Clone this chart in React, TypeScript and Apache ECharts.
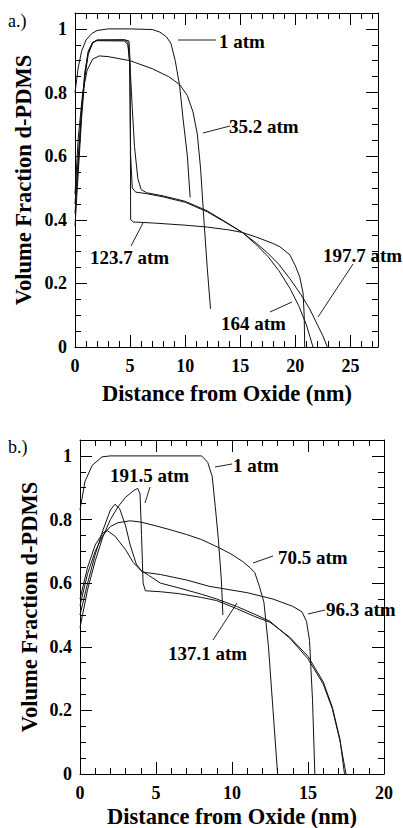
import React, { useEffect, useRef } from "react";
import * as echarts from "echarts";

const FONT = "'Liberation Serif', 'Times New Roman', serif";

// ---------- Panel a data (Distance nm, volume fraction) ----------
const aXTicks = [0, 5, 10, 15, 20, 25];
const a1atm = [[0, 0.8], [0.3, 0.88], [0.6, 0.93], [1, 0.965], [1.5, 0.985], [2, 0.995], [3, 1.0], [5, 1.0], [7, 0.998], [7.7, 0.99], [8.3, 0.975], [8.7, 0.955], [9.1, 0.9], [9.5, 0.82], [9.8, 0.72], [10.2, 0.6], [10.45, 0.47]];
const a35atm = [[0, 0.48], [0.3, 0.66], [0.7, 0.8], [1.1, 0.87], [1.6, 0.905], [2.2, 0.915], [3, 0.913], [5, 0.9], [7, 0.875], [8.5, 0.85], [9.5, 0.825], [10.2, 0.79], [10.7, 0.74], [11.1, 0.67], [11.4, 0.56], [11.7, 0.4], [12.0, 0.25], [12.3, 0.12]];
const a123atm = [[0, 0.38], [0.3, 0.55], [0.6, 0.72], [0.9, 0.85], [1.2, 0.92], [1.6, 0.955], [2, 0.965], [4.5, 0.966], [4.9, 0.962], [5.0, 0.9], [5.05, 0.4], [5.3, 0.393], [7, 0.39], [10, 0.383], [12, 0.377], [14, 0.368], [15.2, 0.36], [16.5, 0.345], [18, 0.325], [18.6, 0.315], [19.5, 0.29], [20, 0.255], [20.4, 0.22], [20.7, 0.17], [20.8, 0.1], [20.85, 0]];
const a164atm = [[0, 0.42], [0.3, 0.58], [0.6, 0.74], [0.9, 0.86], [1.2, 0.925], [1.6, 0.957], [2, 0.965], [4.5, 0.965], [4.8, 0.958], [4.95, 0.9], [5.05, 0.6], [5.2, 0.5], [5.5, 0.487], [6.5, 0.482], [8, 0.472], [10, 0.455], [12, 0.425], [13.5, 0.395], [15.2, 0.36], [16.5, 0.32], [17.5, 0.285], [18.5, 0.24], [19.5, 0.185], [20.3, 0.13], [21, 0.07], [21.6, 0]];
const a197atm = [[0, 0.45], [0.3, 0.6], [0.6, 0.75], [0.9, 0.865], [1.2, 0.93], [1.6, 0.958], [2, 0.963], [4.5, 0.962], [4.8, 0.95], [5.0, 0.88], [5.2, 0.75], [5.4, 0.63], [5.7, 0.53], [6.0, 0.495], [6.5, 0.485], [8, 0.475], [10, 0.458], [12, 0.428], [13.5, 0.397], [15.2, 0.36], [16.5, 0.325], [17.5, 0.295], [18.5, 0.26], [19.5, 0.215], [20.5, 0.165], [21.3, 0.12], [22, 0.07], [22.5, 0.035], [22.9, 0]];

// ---------- Panel b data ----------
const bXTicks = [0, 5, 10, 15, 20];
const b1atm = [[0, 0.83], [0.33, 0.92], [0.8, 0.97], [1.45, 0.997], [2, 1.0], [8, 1.0], [8.4, 0.98], [8.7, 0.935], [8.9, 0.84], [9.1, 0.74], [9.3, 0.61], [9.4, 0.5]];
const b191atm = [[0, 0.46], [0.5, 0.58], [1, 0.67], [1.5, 0.745], [2, 0.8], [2.5, 0.84], [3, 0.87], [3.5, 0.89], [3.8, 0.898], [3.95, 0.88], [4.05, 0.75], [4.15, 0.6], [4.3, 0.576], [5.3, 0.573], [6.5, 0.567], [8, 0.555], [9, 0.545], [10.3, 0.52], [11.5, 0.495], [12.5, 0.477], [13.8, 0.43], [15, 0.37], [16, 0.29], [16.6, 0.21], [17.1, 0.11], [17.4, 0]];
const b96atm = [[0, 0.5], [0.5, 0.6], [1, 0.69], [1.5, 0.765], [2, 0.83], [2.3, 0.848], [2.6, 0.835], [3, 0.78], [3.3, 0.72], [3.7, 0.66], [4.1, 0.635], [5.3, 0.627], [7, 0.61], [8.5, 0.59], [10, 0.578], [11, 0.57], [12.7, 0.55], [14, 0.527], [14.6, 0.51], [14.9, 0.48], [15.1, 0.42], [15.3, 0.23], [15.45, 0]];
const b70atm = [[0, 0.53], [0.5, 0.63], [1, 0.7], [1.5, 0.75], [2, 0.778], [2.5, 0.79], [3.3, 0.796], [4, 0.792], [5, 0.78], [6, 0.767], [7, 0.753], [8, 0.737], [9.2, 0.71], [10, 0.69], [10.7, 0.668], [11.2, 0.648], [11.5, 0.633], [11.8, 0.59], [12.1, 0.54], [12.4, 0.4], [12.7, 0.2], [13.0, 0]];
const b137atm = [[0, 0.55], [0.5, 0.65], [1, 0.72], [1.5, 0.758], [1.8, 0.765], [2.3, 0.748], [3, 0.705], [3.5, 0.665], [4, 0.64], [4.5, 0.625], [5.3, 0.6], [6.5, 0.585], [8, 0.565], [9, 0.55], [10.3, 0.527], [11.5, 0.502], [12.5, 0.48], [13.8, 0.427], [15, 0.362], [16, 0.283], [16.6, 0.205], [17.1, 0.105], [17.5, 0]];

const yTicks = [0, 0.2, 0.4, 0.6, 0.8, 1];

const BLACK = "#000";

function makeAxes(dim: "x" | "y", gridIndex: number, max: number, major: number, minor: number, ticks: number[]) {
  const positions = dim === "x" ? ["bottom", "top"] : ["left", "right"];
  const fmt = (v: number) => {
    const hit = ticks.find((t) => Math.abs(t - v) < 1e-6);
    return hit === undefined ? "" : String(hit);
  };
  const axes: any[] = [];
  positions.forEach((pos, pi) => {
    [major, minor].forEach((iv, k) => {
      axes.push({
        type: "value",
        gridIndex,
        position: pos,
        min: 0,
        max,
        interval: iv,
        axisLine: { show: k === 0, onZero: false, lineStyle: { color: BLACK, width: 1 } },
        axisTick: { show: true, inside: true, length: k === 0 ? 12 : 6, lineStyle: { color: BLACK, width: 1 } },
        axisLabel: {
          show: pi === 0 && k === 0,
          formatter: fmt,
          margin: dim === "x" ? 10 : 8,
          color: BLACK,
          fontFamily: FONT,
          fontWeight: "bold",
          fontSize: 18,
        },
        splitLine: { show: false },
        minorTick: { show: false },
      });
    });
  });
  return axes;
}

function seriesOf(data: number[][], xAxisIndex: number, yAxisIndex: number, name: string) {
  return {
    type: "line",
    name,
    data,
    xAxisIndex,
    yAxisIndex,
    symbol: "none",
    showSymbol: false,
    clip: true,
    lineStyle: { color: "#111", width: 1 },
    z: 3,
  };
}

function txt(text: string, x: number, y: number, size = 19, weight = "bold", extra: any = {}) {
  return {
    type: "text",
    x,
    y,
    ...extra,
    style: {
      text,
      fill: BLACK,
      fontFamily: FONT,
      fontWeight: weight,
      fontSize: size,
      textAlign: extra.align || "left",
      textVerticalAlign: "middle",
    },
  };
}

function leader(x1: number, y1: number, x2: number, y2: number) {
  return { type: "line", shape: { x1, y1, x2, y2 }, style: { stroke: "#222", lineWidth: 1 } };
}

export default function App() {
  const ref = useRef<HTMLDivElement>(null);
  useEffect(() => {
    if (!ref.current) return;
    const chart = echarts.init(ref.current, undefined, { renderer: "svg" });
    const xAxes = [...makeAxes("x", 0, 27.5, 5, 1, aXTicks), ...makeAxes("x", 1, 20, 5, 1, bXTicks)];
    const yAxes = [...makeAxes("y", 0, 1.05, 0.2, 0.05, yTicks), ...makeAxes("y", 1, 1.05, 0.2, 0.05, yTicks)];
    const option: any = {
      animation: false,
      backgroundColor: "#fff",
      grid: [
        { left: 75, top: 13, width: 303, height: 334, containLabel: false, outerBoundsMode: "none" },
        { left: 80, top: 440, width: 304, height: 334, containLabel: false, outerBoundsMode: "none" },
      ],
      xAxis: xAxes,
      yAxis: yAxes,
      series: [
        seriesOf(a1atm, 0, 0, "1 atm"),
        seriesOf(a35atm, 0, 0, "35.2 atm"),
        seriesOf(a123atm, 0, 0, "123.7 atm"),
        seriesOf(a164atm, 0, 0, "164 atm"),
        seriesOf(a197atm, 0, 0, "197.7 atm"),
        seriesOf(b1atm, 4, 4, "1 atm"),
        seriesOf(b191atm, 4, 4, "191.5 atm"),
        seriesOf(b96atm, 4, 4, "96.3 atm"),
        seriesOf(b70atm, 4, 4, "70.5 atm"),
        seriesOf(b137atm, 4, 4, "137.1 atm"),
      ],
      graphic: [
        txt("a.)", 8, 21, 18, "normal"),
        txt("b.)", 8, 447, 18, "normal"),
        txt("Volume Fraction d-PDMS", 23, 180, 22.5, "bold", { rotation: Math.PI / 2, align: "center" }),
        txt("Volume Fraction d-PDMS", 29, 607, 22.5, "bold", { rotation: Math.PI / 2, align: "center" }),
        txt("Distance from Oxide (nm)", 227, 393, 22.5, "bold", { align: "center" }),
        txt("Distance from Oxide (nm)", 232, 816, 22.5, "bold", { align: "center" }),
        // panel a annotations
        leader(178, 40, 216, 40),
        txt("1 atm", 219, 41),
        leader(203, 133, 230, 126),
        txt("35.2 atm", 229, 126),
        leader(143, 223, 131, 246),
        txt("123.7 atm", 90, 257),
        leader(270, 312, 292, 302),
        txt("164 atm", 221, 323),
        leader(318, 317, 353, 264),
        txt("197.7 atm", 323, 255),
        // panel b annotations
        leader(150, 487, 145, 503),
        txt("191.5 atm", 110, 475),
        leader(215, 467, 232, 464),
        txt("1 atm", 233, 465),
        leader(253, 563, 273, 556),
        txt("70.5 atm", 278, 557),
        leader(308, 614, 325, 610),
        txt("96.3 atm", 326, 609),
        leader(213, 640, 237, 603),
        txt("137.1 atm", 168, 653),
      ],
    };
    chart.setOption(option);
    return () => chart.dispose();
  }, []);
  return (
    <div
      ref={ref}
      style={{ position: "absolute", left: 0, top: 0, width: 403, height: 828, background: "#fff" }}
    />
  );
}
